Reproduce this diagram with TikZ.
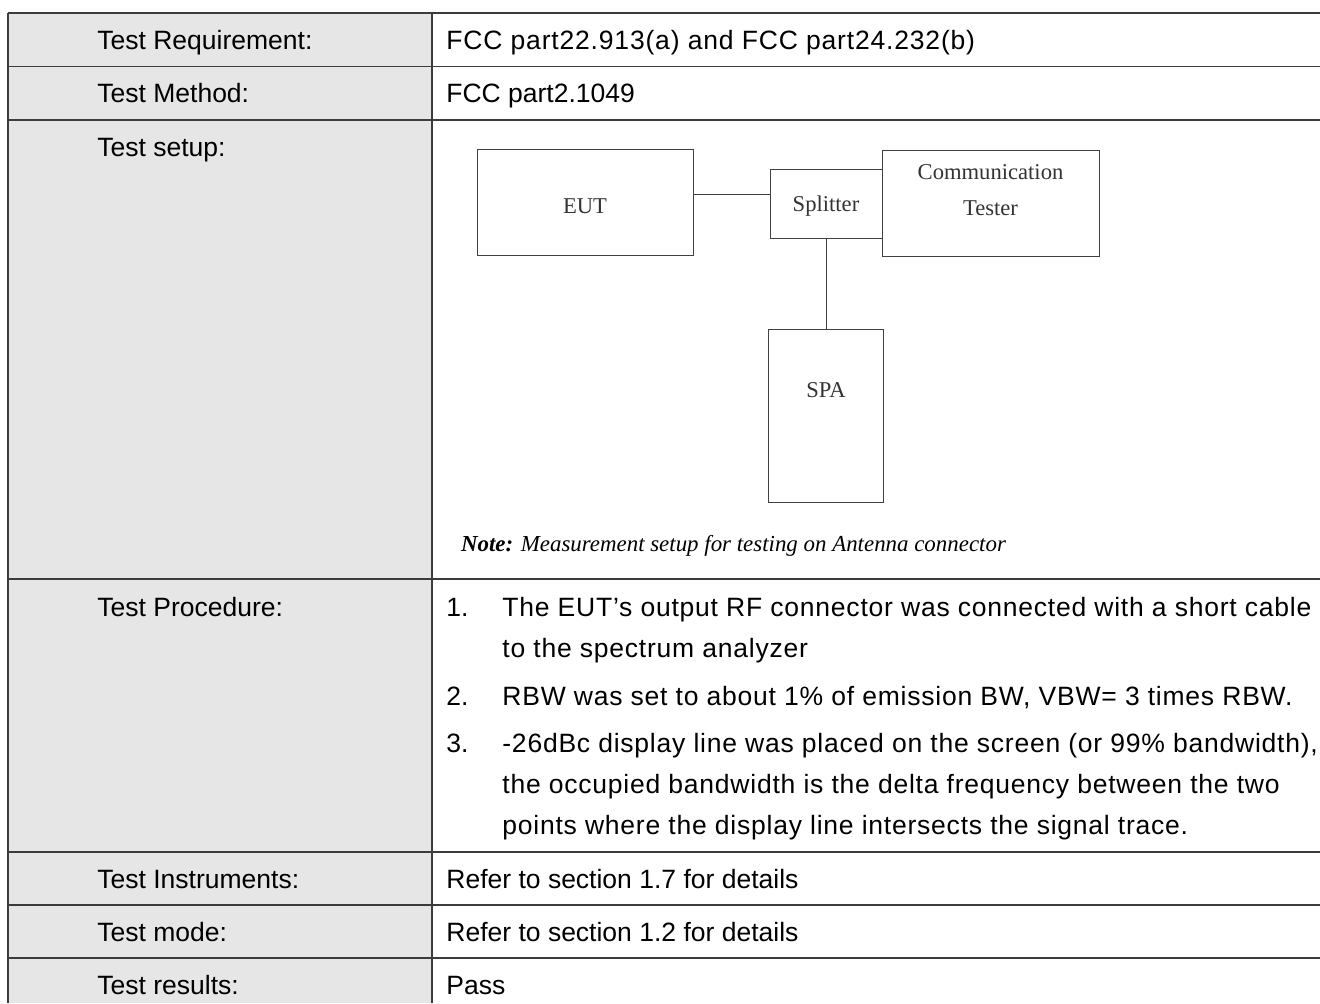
\documentclass[tikz,border=0pt]{standalone}
\usepackage{fontspec}
\setmainfont{Liberation Sans}
\newfontfamily\timesfont{Liberation Serif}
\newfontfamily\widefont{Liberation Sans}[LetterSpace=2.9]
\newfontfamily\widerfont{Liberation Sans}[LetterSpace=3.1]
\usetikzlibrary{positioning}
\definecolor{cellgray}{RGB}{230,230,230}
\definecolor{rulegray}{RGB}{60,60,60}

\begin{document}
\begin{tikzpicture}
[x=0.5pt, y=-0.5pt,
cell/.style={anchor=base west, inner sep=0pt, font=\fontsize{13.25pt}{20.5pt}\selectfont},
steptext/.style={cell, align=left, font=\widefont\fontsize{13.25pt}{20.5pt}\selectfont},
box/.style={draw=black!75, line width=0.5pt, inner sep=0pt, outer sep=0pt, text height=7.5pt, text depth=0pt, font=\timesfont\fontsize{11.3pt}{18pt}\selectfont, text=black!80},
boxlabel/.style={inner sep=0pt, align=center, font=\timesfont\fontsize{11.3pt}{18pt}\selectfont, text=black!80},
link/.style={draw=black!75, line width=0.5pt},
rule/.style={draw=rulegray, line width=0.7pt},
]
\useasboundingbox (0,0) rectangle (1320,1003);

% table
\fill[cellgray] (8,13) rectangle (432,1003);
\foreach \y in {13,66.5,120,579,852,905,958}
  \draw[rule] (8,\y) -- (1320,\y);
\draw[rule] (8,13) -- (8,1003);
\draw[rule] (432,13) -- (432,1003);

\node (req) [cell] at (97,49.3) {Test Requirement:};
\node (reqval) [cell, font=\widerfont\fontsize{13.25pt}{20.5pt}\selectfont] at (446,49.3) {FCC part22.913(a) and FCC part24.232(b)};
\node (method) [cell] at (97,102.9) {Test Method:};
\node (methodval) [cell] at (446,102.9) {FCC part2.1049};
\node (setup) [cell] at (97,156.3) {Test setup:};

% setup sketch
\node (eut) [box, text height=11pt, minimum width=108pt, minimum height=53pt] at (585,202) {EUT};
\node (splitter) [box, minimum width=56pt, minimum height=34.5pt] at (826,203.5) {Splitter};
\node (tester) [box, minimum width=108.5pt, minimum height=53pt, right=0pt of splitter] {};
\node (testerlabel) [boxlabel] at ([yshift=6.5pt]tester.center) {Communication\\Tester};
\node (spa) [box, minimum width=57.5pt, minimum height=86.5pt, below=45.5pt of splitter] {};
\node (spalabel) [boxlabel] at ([yshift=-30.5pt]spa.north) {SPA};
\node (note) [boxlabel, text=black, font=\timesfont\fontsize{11.45pt}{18pt}\selectfont] at (733.5,546) {\textbf{\textit{Note:}} \textit{Measurement setup for testing on Antenna connector}};

\draw [link] ([yshift=4pt]eut.east) -- ([yshift=4pt]eut.east -| splitter.west);
\draw [link] (splitter.south) -- (spa.north);

% procedure (multi-line nodes sit on their last baseline)
\node (proc) [cell] at (97,616.1) {Test Procedure:};
\node (num1) [cell] at (446,616.1) {1.};
\node (item1) [steptext] at (502,657.1) {The EUT’s output RF connector was connected with a short cable\\to the spectrum analyzer};
\node (num2) [cell] at (446,705.6) {2.};
\node (item2) [steptext] at (502,705.6) {RBW was set to about 1\% of emission BW, VBW= 3 times RBW.};
\node (num3) [cell] at (446,752.6) {3.};
\node (item3) [steptext] at (502,834.6) {-26dBc display line was placed on the screen (or 99\% bandwidth),\\the occupied bandwidth is the delta frequency between the two\\points where the display line intersects the signal trace.};

\node (instr) [cell] at (97,888) {Test Instruments:};
\node (instrval) [cell] at (446,888) {Refer to section 1.7 for details};
\node (mode) [cell] at (97,941) {Test mode:};
\node (modeval) [cell] at (446,941) {Refer to section 1.2 for details};
\node (result) [cell] at (97,994) {Test results:};
\node (resultval) [cell] at (446,994) {Pass};

\end{tikzpicture}
\end{document}
